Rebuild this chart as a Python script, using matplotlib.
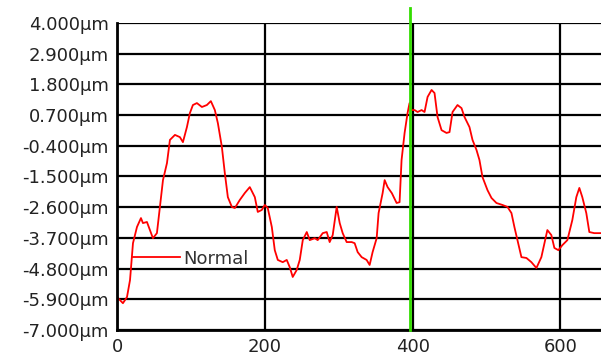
import matplotlib.pyplot as plt

# profile data (x in points, y in um)
xs = [0, 8, 13.5, 17.6, 21.6, 27, 32.4, 35.1, 40.5, 44.6, 48.6, 54, 58.1, 62.2,
      67.6, 71.6, 78.4, 85.1, 89.2, 94.6, 98.6, 102.7, 108.1, 114.9, 121.6, 127,
      132.4, 136.5, 141.9, 145.9, 150, 155.4, 159.5, 166.2, 173, 179.7, 186.5,
      190.5, 195.9, 200, 204, 209.5, 213.5, 217.6, 224.3, 229.7, 233.8, 237.8,
      243.2, 247.3, 251.4, 256.8, 260.8, 267.6, 271.6, 278.4, 283.8, 287.8,
      291.9, 297.3, 301.4, 305.4, 310.8, 317.6, 321.6, 325.7, 331.1, 337.8,
      341.9, 345.9, 351.4, 354, 359.5, 362.2, 366.2, 372, 378.4, 382.4, 385.1,
      389.2, 393.2, 395.9, 398.6, 402.7, 406.8, 412.2, 416.2, 420.3, 425.7,
      429.7, 433.8, 439.2, 445.9, 450, 454.1, 460.8, 466.2, 470.3, 477, 481.1,
      486.5, 490.5, 494.6, 501.4, 506.8, 513.5, 521.6, 528.4, 533.8, 537.8,
      541.9, 547.3, 554.1, 560.8, 567.6, 574.3, 578.4, 582.4, 587.8, 591.9,
      597.3, 602.7, 609.5, 616.2, 621.6, 625.7, 629.7, 635.1, 639.2, 645.9,
      655]
ys = [-5.82, -6.04, -5.82, -5.21, -3.89, -3.31, -2.99, -3.17, -3.13, -3.42,
      -3.71, -3.53, -2.59, -1.63, -1.02, -0.19, -0.01, -0.09, -0.27, 0.27,
      0.77, 1.06, 1.13, 0.99, 1.06, 1.20, 0.88, 0.41, -0.44, -1.38, -2.24,
      -2.59, -2.63, -2.34, -2.09, -1.88, -2.24, -2.77, -2.70, -2.52, -2.63,
      -3.31, -4.14, -4.49, -4.57, -4.49, -4.75, -5.10, -4.85, -4.49, -3.78,
      -3.49, -3.78, -3.71, -3.78, -3.53, -3.49, -3.85, -3.60, -2.59, -3.17,
      -3.53, -3.85, -3.85, -3.89, -4.21, -4.39, -4.49, -4.67, -4.21, -3.71,
      -2.81, -2.09, -1.63, -1.88, -2.10, -2.45, -2.42, -0.91, 0.06, 0.77,
      1.13, 0.88, 0.88, 0.81, 0.88, 0.81, 1.35, 1.60, 1.49, 0.63, 0.16, 0.06,
      0.09, 0.81, 1.06, 0.95, 0.63, 0.27, -0.19, -0.55, -0.91, -1.52, -1.99,
      -2.27, -2.45, -2.52, -2.59, -2.81, -3.31, -3.78, -4.39, -4.42, -4.57,
      -4.78, -4.39, -3.89, -3.42, -3.60, -4.06, -4.14, -3.96, -3.78, -3.06,
      -2.24, -1.91, -2.24, -2.81, -3.49, -3.53, -3.53]

yticks = [4.0, 2.9, 1.8, 0.7, -0.4, -1.5, -2.6, -3.7, -4.8, -5.9, -7.0]
xticks = [0, 200, 400, 600]
cursor_x = 396

fig = plt.figure(figsize=(6.01, 3.59), dpi=100)
ax = fig.add_axes([0.1947, 0.0808, 0.8053, 0.8552])

ax.plot(xs, ys, color='red', lw=1.3, label='Normal')
ax.axvline(cursor_x, ymin=0, ymax=1.049, color='#33dd00', lw=2, clip_on=False, zorder=5)

ax.set_xlim(0, 655)
ax.set_ylim(-7.0, 4.0)
ax.set_yticks(yticks)
ax.set_yticklabels(['%.3f\u00b5m' % v for v in yticks])
ax.set_xticks(xticks)
ax.grid(True, color='black', lw=1.6)
ax.tick_params(length=0, labelsize=13, labelcolor='#222222')
ax.tick_params(axis='x', pad=6)
ax.tick_params(axis='y', pad=6)
for s in ['top', 'right']:
    ax.spines[s].set_visible(False)
for s in ['left', 'bottom']:
    ax.spines[s].set_linewidth(2)

leg = ax.legend(loc='lower left', bbox_to_anchor=(0.0, 0.15), frameon=False,
                fontsize=13, handlelength=2.6, handletextpad=0.15)
for t in leg.get_texts():
    t.set_color('#333333')

fig.savefig('out.png', dpi=100)
